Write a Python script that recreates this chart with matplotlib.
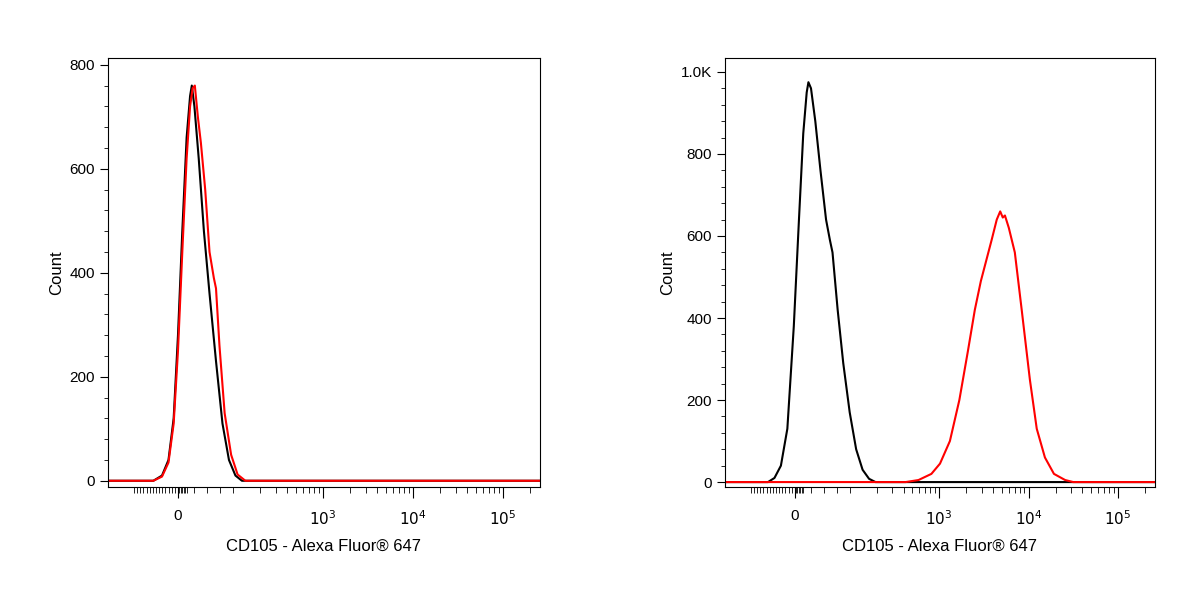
import matplotlib
matplotlib.use("Agg")
import matplotlib.pyplot as plt
import numpy as np

plt.rcParams['font.family'] = ['Liberation Sans', 'DejaVu Sans']

# x in display channel units (0..1000 across axis)
tick_pos = [162, 498, 706, 914]
tick_labels = ['0', '$10^3$', '$10^4$', '$10^5$']

# Left panel
L_black_x = [0, 105, 125, 140, 152, 162, 172, 182, 190, 194, 200, 210, 222, 235, 250, 265, 280, 295, 310, 1000]
L_black_y = [0, 0, 10, 40, 120, 280, 480, 660, 740, 760, 720, 620, 480, 360, 230, 110, 40, 10, 0, 0]
L_red_x = [0, 105, 125, 140, 152, 162, 172, 182, 190, 196, 201, 208, 215, 225, 235, 245, 250, 258, 270, 285, 300, 318, 1000]
L_red_y = [0, 0, 8, 35, 110, 250, 440, 620, 720, 755, 760, 700, 650, 560, 440, 390, 370, 260, 130, 50, 12, 0, 0]

# Right panel
R_black_x = [0, 100, 115, 130, 145, 160, 172, 182, 190, 194, 200, 210, 222, 235, 244, 250, 262, 275, 290, 305, 320, 335, 350, 1000]
R_black_y = [0, 0, 10, 40, 130, 380, 640, 850, 950, 975, 960, 880, 760, 640, 590, 560, 420, 290, 170, 80, 30, 8, 0, 0]
R_red_x = [0, 420, 450, 480, 500, 523, 545, 565, 581, 595, 605, 620, 632, 640, 646, 651, 660, 674, 690, 709, 725, 744, 765, 791, 810, 1000]
R_red_y = [0, 0, 5, 20, 45, 100, 200, 320, 420, 490, 530, 590, 640, 660, 645, 650, 620, 560, 420, 250, 130, 60, 20, 5, 0, 0]

fig = plt.figure(figsize=(12, 6), dpi=100)

def minor_positions():
    pos = []
    pos += list(np.linspace(60, 155, 14))
    pos += [165, 168, 172, 175, 179, 182, 200, 230, 260]
    for base, nxt in [(290, 498), (498, 706), (706, 914)]:
        for k in range(2, 10):
            pos.append(base + (nxt - base) * np.log10(k))
    for k in range(2, 10):
        p = 914 + 208 * np.log10(k)
        if p < 1000:
            pos.append(p)
    pos.append(290)
    return pos

def setup(ax, yticks, ylabels, ylim):
    ax.set_xlim(0, 1000)
    ax.set_ylim(*ylim)
    ax.set_xticks(tick_pos)
    ax.set_xticklabels(tick_labels, fontsize=11)
    ax.set_xticks(minor_positions(), minor=True)
    ax.set_yticks(yticks)
    ax.set_yticklabels(ylabels, fontsize=11)
    ax.set_yticks(np.arange(0, ylim[1], (yticks[1]-yticks[0])/5), minor=True)
    ax.tick_params(axis='x', which='major', length=8, direction='out', pad=8)
    ax.tick_params(axis='x', which='minor', length=4, direction='out')
    ax.tick_params(axis='y', which='major', length=6, direction='out')
    ax.tick_params(axis='y', which='minor', length=3, direction='out')
    ax.set_xlabel('CD105 - Alexa Fluor® 647', fontsize=12, labelpad=8)
    ax.set_ylabel('Count', fontsize=12)

ax1 = fig.add_axes([108/1200, 113/600, 432/1200, 429/600])
ax1.plot(L_black_x, L_black_y, color='black', lw=1.5)
ax1.plot(L_red_x, L_red_y, color='red', lw=1.5)
setup(ax1, [0, 200, 400, 600, 800], ['0', '200', '400', '600', '800'], (-12, 813))

ax2 = fig.add_axes([725/1200, 113/600, 430/1200, 429/600])
ax2.plot(R_black_x, R_black_y, color='black', lw=1.5)
ax2.plot(R_red_x, R_red_y, color='red', lw=1.5)
setup(ax2, [0, 200, 400, 600, 800, 1000], ['0', '200', '400', '600', '800', '1.0K'], (-12, 1034))

fig.savefig('out.png', dpi=100)
